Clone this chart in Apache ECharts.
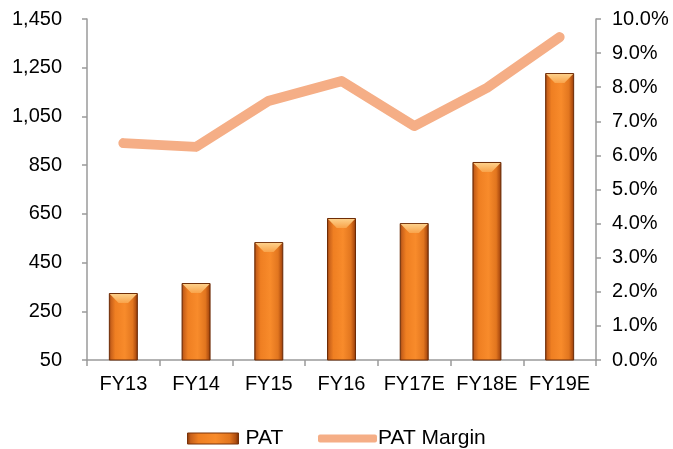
<!DOCTYPE html>
<html>
<head>
<meta charset="utf-8">
<script src="https://cdn.jsdelivr.net/npm/echarts@6/dist/echarts.min.js"></script>
<style>
  html, body { margin: 0; padding: 0; background: #fff; }
  #chart { width: 673px; height: 449px; }
</style>
</head>
<body>
<div id="chart"></div>
<script>
// Fiscal years
const categories = ['FY13', 'FY14', 'FY15', 'FY16', 'FY17E', 'FY18E', 'FY19E'];
// Profit after tax
const patValues = [325, 366, 534, 633, 612, 863, 1228];
// PAT margin, percent
const marginValues = [6.36, 6.25, 7.6, 8.18, 6.86, 7.98, 9.47];

const FONT = 'Liberation Sans, Arial, sans-serif';
const axisGray = '#9a9a9a';
const lineColor = '#f5ae86';

const barGradient = new echarts.graphic.LinearGradient(0, 0, 1, 0, [
  { offset: 0, color: '#7e3409' },
  { offset: 0.07, color: '#c8601a' },
  { offset: 0.22, color: '#ef7f22' },
  { offset: 0.55, color: '#f88b2b' },
  { offset: 0.82, color: '#e2761f' },
  { offset: 0.94, color: '#b04e10' },
  { offset: 1, color: '#6a2a05' }
]);

const chart = echarts.init(document.getElementById('chart'), null, { renderer: 'canvas' });
chart.setOption({
  animation: false,
  grid: { left: 87, right: 77, top: 19, bottom: 89 },
  legend: [
    {
      data: [{ name: 'PAT', icon: 'rect', itemStyle: { color: barGradient, borderColor: '#7a3208', borderWidth: 1 } }],
      left: 187, top: 428, padding: 0,
      itemWidth: 51, itemHeight: 11,
      textStyle: { fontFamily: FONT, fontSize: 21, color: '#000', padding: [0, 0, 0, 2] }
    },
    {
      data: [{ name: 'PAT Margin', icon: 'roundRect', itemStyle: { color: lineColor } }],
      left: 318, top: 428, padding: 0,
      itemWidth: 59, itemHeight: 8,
      textStyle: { fontFamily: FONT, fontSize: 21, color: '#000', padding: [0, 0, 0, -4] }
    }
  ],
  xAxis: {
    type: 'category',
    data: categories,
    axisLine: { lineStyle: { color: axisGray, width: 1.5 } },
    axisTick: { show: true, alignWithLabel: false, length: 6, lineStyle: { color: axisGray, width: 1.5 } },
    axisLabel: { interval: 0, fontFamily: FONT, fontSize: 20, color: '#000', margin: 14 }
  },
  yAxis: [
    {
      type: 'value',
      min: 50, max: 1450, interval: 200,
      axisLine: { show: true, lineStyle: { color: axisGray, width: 1.5 } },
      axisTick: { show: true, length: 5, lineStyle: { color: axisGray, width: 1.5 } },
      splitLine: { show: false },
      axisLabel: {
        fontFamily: FONT, fontSize: 20, color: '#000', margin: 25,
        formatter: v => v.toLocaleString('en-US')
      }
    },
    {
      type: 'value',
      min: 0, max: 10, interval: 1,
      position: 'right',
      axisLine: { show: true, lineStyle: { color: axisGray, width: 1.5 } },
      axisTick: { show: true, length: 5, lineStyle: { color: axisGray, width: 1.5 } },
      splitLine: { show: false },
      axisLabel: {
        fontFamily: FONT, fontSize: 20, color: '#000', margin: 16,
        formatter: v => v.toFixed(1) + '%'
      }
    }
  ],
  series: [
    {
      name: 'PAT',
      type: 'bar',
      data: patValues,
      barWidth: 29,
      itemStyle: { color: barGradient, borderColor: '#6e2c06', borderWidth: 1 },
      z: 2
    },
    {
      // bevel highlight on each bar top
      name: 'PAT top',
      type: 'pictorialBar',
      data: patValues,
      symbol: 'path://M0,0 L20,0 L13.5,7 L6.5,7 Z',
      symbolSize: [27, 9],
      symbolPosition: 'end',
      symbolOffset: [0, 1],
      itemStyle: {
        color: new echarts.graphic.LinearGradient(0, 0, 0, 1, [
          { offset: 0, color: '#fdd08a' },
          { offset: 1, color: '#f9a34a' }
        ])
      },
      z: 3,
      silent: true
    },
    {
      name: 'PAT Margin',
      type: 'line',
      yAxisIndex: 1,
      data: marginValues,
      symbol: 'none',
      lineStyle: { color: lineColor, width: 10, cap: 'round', join: 'round' },
      itemStyle: { color: lineColor },
      z: 4
    }
  ]
});
</script>
</body>
</html>
